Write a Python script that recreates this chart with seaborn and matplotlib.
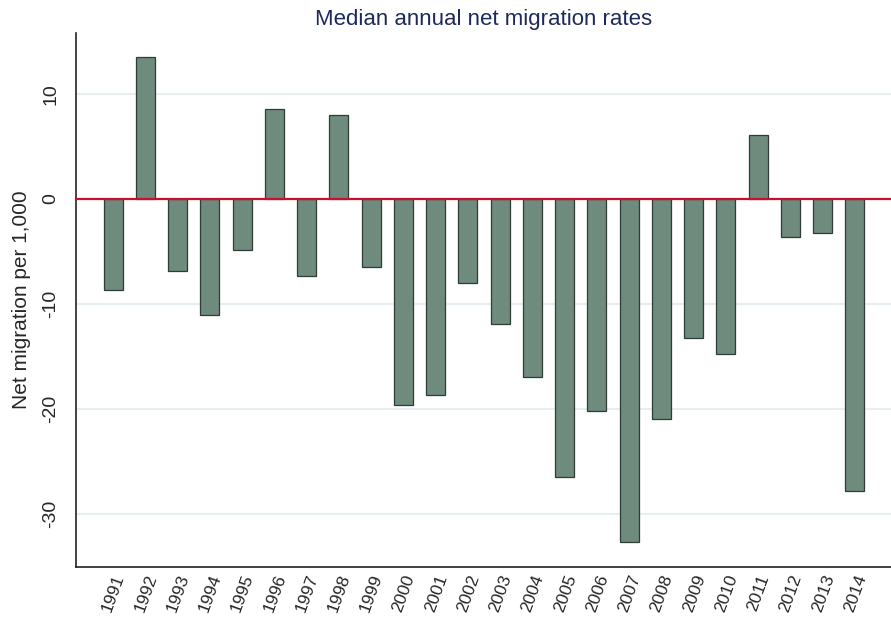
import pandas as pd
import seaborn as sns
import matplotlib.pyplot as plt

years = [str(y) for y in range(1991, 2015)]
rates = [-8.7, 13.5, -6.9, -11.1, -4.9, 8.6, -7.3, 8.0, -6.5, -19.6,
         -18.7, -8.0, -11.9, -17.0, -26.5, -20.2, -32.7, -21.0, -13.2, -14.8,
         6.1, -3.6, -3.2, -27.8]

data = pd.DataFrame({"year": years, "rate": rates})

sns.set_style("white")
plt.rcParams['font.family'] = ['Liberation Sans', 'DejaVu Sans']
plt.rcParams['axes.unicode_minus'] = False

fig = plt.figure(figsize=(8.91, 6.19), dpi=100)
ax = fig.add_axes([0.0853, 0.084, 0.9147, 0.8627])

sns.barplot(data=data, x="year", y="rate", color="#6e8b7e", saturation=1,
            width=0.59, edgecolor="#2f3b35", linewidth=0.9, ax=ax, zorder=3)

ax.set_ylim(-35.05, 15.8)
ax.set_xlim(-1.15, 24.12)
ax.set_yticks([-30, -20, -10, 0, 10])
ax.grid(axis="y", color="#e6eef1", linewidth=1.5, zorder=0)
ax.axhline(0, color="#c8102e", linewidth=1.6, zorder=4)

ax.set_title("Median annual net migration rates", color="#1f2a5c", fontsize=16, pad=6)
ax.set_ylabel("Net migration per 1,000", fontsize=15, labelpad=8)
ax.set_xlabel("")

ax.tick_params(axis="y", direction="out", length=9, width=1, labelsize=14, pad=3)
ax.tick_params(axis="x", length=0, labelsize=12.5, pad=4)
plt.setp(ax.get_yticklabels(), rotation=90, va="center")
plt.setp(ax.get_xticklabels(), rotation=70, ha="right", rotation_mode="anchor")

for s in ["top", "right"]:
    ax.spines[s].set_visible(False)
for s in ["left", "bottom"]:
    ax.spines[s].set_color("#222222")
    ax.spines[s].set_linewidth(1.2)

plt.savefig("out.png", dpi=100)
